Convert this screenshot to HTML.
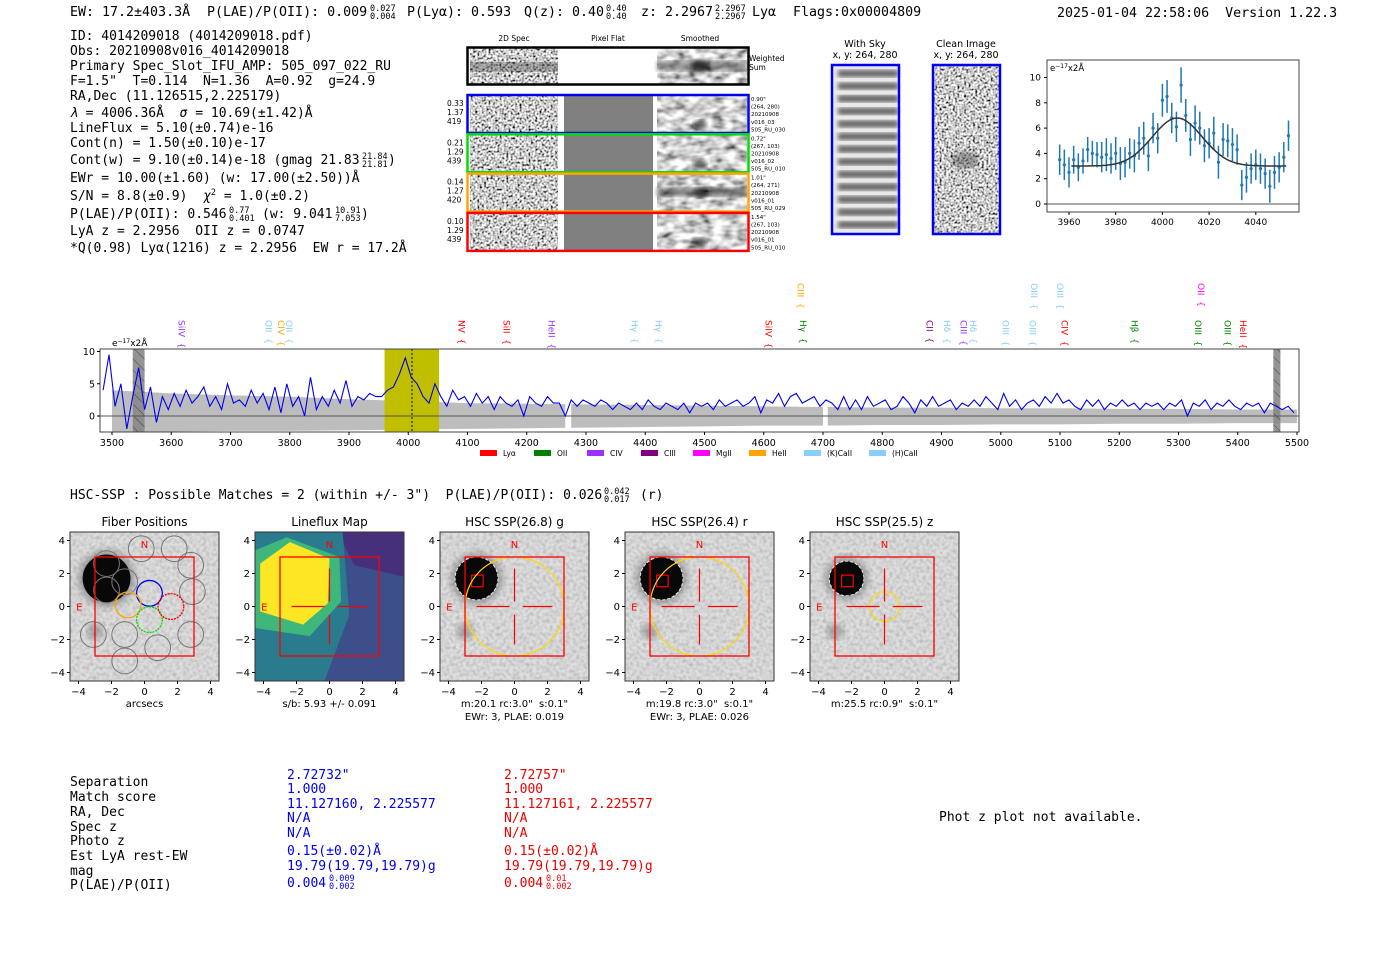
<!DOCTYPE html>
<html><head><meta charset="utf-8">
<style>
html,body{margin:0;padding:0;background:#fff;}
svg{display:block;}
text{white-space:pre;}
.m{font-family:"DejaVu Sans Mono","Liberation Mono",monospace;fill:#000;}
.s{font-family:"DejaVu Sans","Liberation Sans",sans-serif;}
</style></head>
<body>
<svg id="root" width="1400" height="953" viewBox="0 0 1400 953" xmlns="http://www.w3.org/2000/svg" font-size="13" xml:space="preserve">
<defs>
<filter id="noise" x="0" y="0" width="1" height="1" filterUnits="objectBoundingBox">
<feTurbulence type="fractalNoise" baseFrequency="0.45" numOctaves="1" seed="4"/>
<feColorMatrix type="matrix" values="1 0 0 0 0  1 0 0 0 0  1 0 0 0 0  0 0 0 0 1"/>
<feComponentTransfer><feFuncR type="linear" slope="2.6" intercept="-0.7"/><feFuncG type="linear" slope="2.6" intercept="-0.7"/><feFuncB type="linear" slope="2.6" intercept="-0.7"/></feComponentTransfer>
</filter>
<filter id="noiseSoft" x="0" y="0" width="1" height="1" filterUnits="objectBoundingBox">
<feTurbulence type="fractalNoise" baseFrequency="0.08 0.15" numOctaves="2" seed="9"/>
<feColorMatrix type="matrix" values="1 0 0 0 0  1 0 0 0 0  1 0 0 0 0  0 0 0 0 1"/>
<feComponentTransfer><feFuncR type="linear" slope="1.8" intercept="-0.25"/><feFuncG type="linear" slope="1.8" intercept="-0.25"/><feFuncB type="linear" slope="1.8" intercept="-0.25"/></feComponentTransfer>
</filter>
<filter id="noiseLight" x="0" y="0" width="1" height="1" filterUnits="objectBoundingBox">
<feTurbulence type="fractalNoise" baseFrequency="0.3" numOctaves="1" seed="7"/>
<feColorMatrix type="matrix" values="1 0 0 0 0  1 0 0 0 0  1 0 0 0 0  0 0 0 0 1"/>
<feComponentTransfer><feFuncR type="linear" slope="1.2" intercept="0.2"/><feFuncG type="linear" slope="1.2" intercept="0.2"/><feFuncB type="linear" slope="1.2" intercept="0.2"/></feComponentTransfer>
</filter>
<filter id="blur2"><feGaussianBlur stdDeviation="2"/></filter>
<filter id="blur4"><feGaussianBlur stdDeviation="4"/></filter>
<pattern id="hatch" width="8" height="8" patternUnits="userSpaceOnUse" patternTransform="rotate(-45)">
<rect width="8" height="8" fill="#888"/><line x1="0" y1="0" x2="0" y2="8" stroke="#333" stroke-width="1"/></pattern>
<clipPath id="specClip"><rect x="100" y="349" width="1199" height="83"/></clipPath>
</defs>

<g>
<text class="m" x="70" y="16" font-size="13.3">EW: 17.2±403.3Å</text>
<text class="m" x="207" y="16" font-size="13.3">P(LAE)/P(OII): 0.009</text>
<text class="m" x="370" y="11" font-size="8.5">0.027</text><text class="m" x="370" y="19" font-size="8.5">0.004</text>
<text class="m" x="407" y="16" font-size="13.3">P(Lyα): 0.593</text>
<text class="m" x="524" y="16" font-size="13.3">Q(z): 0.40</text>
<text class="m" x="606" y="11" font-size="8.5">0.40</text><text class="m" x="606" y="19" font-size="8.5">0.40</text>
<text class="m" x="641" y="16" font-size="13.3">z: 2.2967</text>
<text class="m" x="715" y="11" font-size="8.5">2.2967</text><text class="m" x="715" y="19" font-size="8.5">2.2967</text>
<text class="m" x="752" y="16" font-size="13.3">Lyα</text>
<text class="m" x="793" y="16" font-size="13.3">Flags:0x00004809</text>
<text class="m" x="1057" y="17" font-size="13.3">2025-01-04 22:58:06  Version 1.22.3</text>
</g>

<g>
<text class="m" x="70" y="40">ID: 4014209018 (4014209018.pdf)</text>
<text class="m" x="70" y="55">Obs: 20210908v016_4014209018</text>
<text class="m" x="70" y="70">Primary Spec_Slot_IFU_AMP: 505_097_022_RU</text>
<text class="m" x="70" y="85">F=1.5"  T=0.114  N=1.36  A=0.92  g=24.9</text>
<text class="m" x="70" y="100">RA,Dec (11.126515,2.225179)</text>
<text class="m" x="70" y="117"><tspan font-style="italic">λ</tspan> = 4006.36Å  <tspan font-style="italic">σ</tspan> = 10.69(±1.42)Å</text>
<text class="m" x="70" y="132">LineFlux = 5.10(±0.74)e-16</text>
<text class="m" x="70" y="147">Cont(n) = 1.50(±0.10)e-17</text>
<text class="m" x="70" y="164">Cont(w) = 9.10(±0.14)e-18 (gmag 21.83</text>
<text class="m" x="362" y="159" font-size="8.5">21.84</text><text class="m" x="362" y="167" font-size="8.5">21.81</text><text class="m" x="388" y="164">)</text>
<text class="m" x="70" y="182">EWr = 10.00(±1.60) (w: 17.00(±2.50))Å</text>
<text class="m" x="70" y="200">S/N = 8.8(±0.9)  <tspan font-style="italic">χ</tspan><tspan font-size="8.5" dy="-5">2</tspan><tspan dy="5"> = 1.0(±0.2)</tspan></text>
<text class="m" x="70" y="218">P(LAE)/P(OII): 0.546</text>
<text class="m" x="229" y="213" font-size="8.5">0.77</text><text class="m" x="229" y="221" font-size="8.5">0.401</text>
<text class="m" x="262" y="218">(w: 9.041</text>
<text class="m" x="335" y="213" font-size="8.5">10.91</text><text class="m" x="335" y="221" font-size="8.5">7.053</text><text class="m" x="361" y="218">)</text>
<text class="m" x="70" y="235">LyA z = 2.2956  OII z = 0.0747</text>
<text class="m" x="70" y="252">*Q(0.98) Lyα(1216) z = 2.2956  EW r = 17.2Å</text>
</g>

<g class="s" font-size="7.5">
<text x="514" y="41" text-anchor="middle">2D Spec</text>
<text x="608" y="41" text-anchor="middle">Pixel Flat</text>
<text x="700" y="41" text-anchor="middle">Smoothed</text>
<rect x="470" y="48" width="88" height="36" filter="url(#noise)"/>
<rect x="470" y="62" width="88" height="10" fill="#333" opacity="0.35"/>
<rect x="657" y="48" width="90" height="36" filter="url(#noiseSoft)"/>
<rect x="657" y="61" width="90" height="10" fill="#333" opacity="0.5" filter="url(#blur2)"/>
<ellipse cx="700" cy="66" rx="9" ry="6" fill="#111" opacity="0.7" filter="url(#blur2)"/>
<rect x="467.5" y="47.5" width="281" height="37" fill="none" stroke="#000" stroke-width="2.5"/>
<text x="749" y="61">Weighted</text><text x="749" y="70">Sum</text>
<g id="rows"></g>
</g>

<g class="s" font-size="9.5">
<text x="865" y="47" text-anchor="middle">With Sky</text>
<text x="865" y="58" text-anchor="middle">x, y: 264, 280</text>
<text x="966" y="47" text-anchor="middle">Clean Image</text>
<text x="966" y="58" text-anchor="middle">x, y: 264, 280</text>
<rect x="832" y="65" width="67" height="169" fill="#e8e8e8"/>
<g id="skybands"></g>
<rect x="933" y="65" width="67" height="169" filter="url(#noise)"/>
<ellipse cx="965" cy="160" rx="14" ry="9" fill="#222" opacity="0.35" filter="url(#blur2)"/>
<rect x="832" y="65" width="67" height="169" fill="none" stroke="#0000ee" stroke-width="2.5"/>
<rect x="933" y="65" width="67" height="169" fill="none" stroke="#0000ee" stroke-width="2.5"/>
</g>

<g id="zoomplot" class="s" font-size="9"></g>
<g id="spec" class="s" font-size="9.5"></g>

<text class="m" x="70" y="499">HSC-SSP : Possible Matches = 2 (within +/- 3")  P(LAE)/P(OII): 0.026</text>
<text class="m" x="604" y="494" font-size="8.5">0.042</text><text class="m" x="604" y="502" font-size="8.5">0.017</text>
<text class="m" x="640" y="499">(r)</text>

<g id="cutouts" class="s"></g>

<g>
<text class="m" x="70" y="786">Separation</text>
<text class="m" x="70" y="801">Match score</text>
<text class="m" x="70" y="816">RA, Dec</text>
<text class="m" x="70" y="831">Spec z</text>
<text class="m" x="70" y="845">Photo z</text>
<text class="m" x="70" y="860">Est LyA rest-EW</text>
<text class="m" x="70" y="875">mag</text>
<text class="m" x="70" y="889">P(LAE)/P(OII)</text>
<g>
<text class="m" style="fill:#0000ee" x="287" y="779">2.72732"</text>
<text class="m" style="fill:#0000ee" x="287" y="793">1.000</text>
<text class="m" style="fill:#0000ee" x="287" y="808">11.127160, 2.225577</text>
<text class="m" style="fill:#0000ee" x="287" y="822">N/A</text>
<text class="m" style="fill:#0000ee" x="287" y="837">N/A</text>
<text class="m" style="fill:#0000ee" x="287" y="855">0.15(±0.02)Å</text>
<text class="m" style="fill:#0000ee" x="287" y="870">19.79(19.79,19.79)g</text>
<text class="m" style="fill:#0000ee" x="287" y="887">0.004</text>
<text class="m" style="fill:#0000ee" font-size="8.5" x="329" y="881">0.009</text>
<text class="m" style="fill:#0000ee" font-size="8.5" x="329" y="889">0.002</text>
</g>
<g>
<text class="m" style="fill:#ee0000" x="504" y="779">2.72757"</text>
<text class="m" style="fill:#ee0000" x="504" y="793">1.000</text>
<text class="m" style="fill:#ee0000" x="504" y="808">11.127161, 2.225577</text>
<text class="m" style="fill:#ee0000" x="504" y="822">N/A</text>
<text class="m" style="fill:#ee0000" x="504" y="837">N/A</text>
<text class="m" style="fill:#ee0000" x="504" y="855">0.15(±0.02)Å</text>
<text class="m" style="fill:#ee0000" x="504" y="870">19.79(19.79,19.79)g</text>
<text class="m" style="fill:#ee0000" x="504" y="887">0.004</text>
<text class="m" style="fill:#ee0000" font-size="8.5" x="546" y="881">0.01</text>
<text class="m" style="fill:#ee0000" font-size="8.5" x="546" y="889">0.002</text>
</g>
</g>
<text class="m" x="939" y="821">Phot z plot not available.</text>
</svg>

<script>
const specStart = 3485;
const specStep = 10;
const specFlux = [4,9.5,1.5,5,-2,3,7.5,1,
4.5,-1,3,1,3.5,1.5,4,2,3,
4.5,1.5,3,1,5,2,2.5,1.5,4,2,
3.5,1,4.5,0.5,5,1.5,3,0,6,1,
3,1.5,4,2,5.5,1.5,3,2.5,3.5,3,
3,4,4.5,6.5,9,6,5,3,2,5,
3,1.5,4,2.5,3,1.5,3.5,2,3,1,
3,2,1.5,2.5,0,3,2,1.5,3,2,
2,0,2.5,1.5,2.5,2,1.5,2.5,2,1,
2,1.5,1,2,1,2.5,1.5,1,2,1.5,
1,2,0.5,2,1.5,2,1,2.5,1.5,2,
2.5,1.5,2,3,0.5,2.5,2,3.5,1.5,3,
3.5,2,2.5,3,1.5,2.5,2,1,3,1,
2.5,1,3,1.5,2,2.5,1,1.5,3,2,
0.5,2.5,1.5,3,1.5,2,2.5,1,2,1.5,
2.5,1.5,3,2,1,3.5,1.5,2.5,1,2,
2.5,1.5,3,2,3.5,2,2.5,1.5,1,2.5,
1.5,2.5,1,2,1.5,2.5,1.5,2,1,2,
1.5,2,1,2,1.5,2.5,0,2,1.5,2.5,
1,2,1.5,2.5,1.5,1,2,1.5,2,0.5,
2,1.5,1,1.5,0.5];
const errWave = [3500,3600,3700,3800,3900,4000,4100,4200,4300,4400,4500,4600,4700,4800,4900,5000,5100,5200,5300,5400,5500];
const errTop = [4,3.5,3.2,3,2.6,2.3,2,1.9,1.8,1.7,1.6,1.5,1.4,1.3,1.3,1.2,1.2,1.1,1.1,1.0,1.0];
const errBot = [-2.5,-2.4,-2.3,-2.3,-2.2,-2.1,-2,-1.9,-1.8,-1.7,-1.6,-1.5,-1.5,-1.4,-1.4,-1.3,-1.3,-1.2,-1.2,-1.1,-1.1];
const specXTicks = [3500,3600,3700,3800,3900,4000,4100,4200,4300,4400,4500,4600,4700,4800,4900,5000,5100,5200,5300,5400,5500];
const specYTicks = [0,5,10];
const lineNames = ["SiIV","OII","CIV","OII","NV","SiII","HeII","Hγ","Hγ","SiIV","Hγ","CIII","CII","Hδ","CIII","Hδ","OIII","OIII","OIII","OIII","CIV","Hβ","OII","OIII","OIII","HeII"];
const lineWaves = [3617,3764,3785,3799,4090,4166,4242,4382,4422,4608,4666,4662,4880,4909,4937,4953,5008,5054,5056,5100,5108,5226,5338,5333,5383,5409];
const lineColors = ["#9b30ff","#87cefa","#ffa500","#87cefa","red","red","#9b30ff","#87cefa","#87cefa","red","green","#ffa500","purple","#87cefa","#9b30ff","#87cefa","#87cefa","#87cefa","#87cefa","#87cefa","red","green","magenta","green","green","red"];
const lineHigh = [0,0,0,0,0,0,0,0,0,0,0,1,0,0,0,0,0,0,1,1,0,0,1,0,0,0];
const fitWave = [3956,3958,3960,3962,3964,3966,3968,3970,3972,3974,3976,3978,3980,3982,3984,3986,3988,3990,3992,3994,3996,3998,4000,4002,4004,4006,4008,4010,4012,4014,4016,4018,4020,4022,4024,4026,4028,4030,4032,4034,4036,4038,4040,4042,4044,4046,4048,4050,4052,4054];
const fitFlux = [3.5,3.1,2.5,3.5,2.9,3.4,4.3,4.0,3.9,3.7,3.9,3.6,4.0,3.2,3.3,4.0,3.8,4.8,5.2,3.8,6.0,5.2,8.2,8.5,6.8,6.1,9.4,7.0,5.1,6.4,6.0,4.6,4.8,5.6,3.3,5.1,5.0,4.7,4.3,1.5,2.1,2.8,3.1,2.8,2.4,1.4,2.5,2.9,3.7,5.4];
const fitErr = [1.2,1.2,1.2,1.1,1.1,1.0,1.0,1.0,1.0,1.2,1.3,1.2,1.3,1.3,1.2,1.2,1.3,1.3,1.3,1.2,1.2,1.2,1.3,1.3,1.2,1.2,1.4,1.3,1.3,1.4,1.3,1.3,1.2,1.3,1.3,1.3,1.3,1.3,1.2,1.2,1.2,1.2,1.2,1.2,1.2,1.3,1.3,1.2,1.2,1.2];
const fitParams = [3.0, 3.8, 4006.36, 10.69];
const fitXTicks = [3960,3980,4000,4020,4040];
const fitYTicks = [0,2,4,6,8,10];
const legendNames = ["Lyα","OII","CIV","CIII","MgII","HeII","(K)CaII","(H)CaII"];
const legendColors = ["red","green","#9b30ff","purple","magenta","orange","#87cefa","#87cefa"];

const NS = "http://www.w3.org/2000/svg";
function mk(tag, attrs, parent){ const e=document.createElementNS(NS,tag); for(const k in attrs) e.setAttribute(k,attrs[k]); parent.appendChild(e); return e; }

const rows = document.getElementById('rows');
const rowColors = ["#0000ee","#00dd00","orange","red"];
const rowL = [["0.33","1.37","419"],["0.21","1.29","439"],["0.14","1.27","420"],["0.10","1.29","439"]];
const rowR = [["0.90\"","(264, 280)","20210908","v016_03","505_RU_030"],["0.72\"","(267, 103)","20210908","v016_02","505_RU_010"],["1.01\"","(264, 271)","20210908","v016_01","505_RU_029"],["1.54\"","(267, 103)","20210908","v016_01","505_RU_010"]];
for(let i=0;i<4;i++){
  const y=95+i*39.3;
  const r1=mk('rect',{x:470,y:y,width:88,height:38,filter:'url(#noise)'},rows);
  
  
  mk('rect',{x:564,y:y,width:89,height:38,fill:'#808080'},rows);
  mk('rect',{x:657,y:y,width:90,height:38,filter:'url(#noiseSoft)'},rows);
  if(i==2){ mk('rect',{x:657,y:y+14,width:90,height:9,fill:'#222',opacity:0.55,filter:'url(#blur2)'},rows); }
  mk('ellipse',{cx:700,cy:y+(i==2?19:30),rx:7,ry:5,fill:'#111',opacity:0.6,filter:'url(#blur2)'},rows);
  const fr=mk('rect',{x:467.5,y:y,width:281,height:38,fill:'none',stroke:rowColors[i],'stroke-width':2.5},rows);
  
  
  rowL[i].forEach((t,j)=>{ mk('text',{x:447,y:y+11+j*9,'font-size':7.5},rows).textContent=t; });
  rowR[i].forEach((t,j)=>{ mk('text',{x:751,y:y+6+j*7.6,'font-size':5.5},rows).textContent=t; });
}
const sb=document.getElementById('skybands');
for(let i=0;i<13;i++){ mk('rect',{x:838,y:70+i*12.6,width:60,height:7,fill:'#666',filter:'url(#blur2)'},sb); }

(function(){
  const g=document.getElementById('zoomplot');
  const X=w=>1069+(w-3960)*2.335, Y=v=>204-v*12.65;
  mk('rect',{x:1047,y:60,width:252,height:152,fill:'#fff',stroke:'#444','stroke-width':1},g);
  mk('line',{x1:1047,x2:1299,y1:Y(0),y2:Y(0),stroke:'#555','stroke-width':1},g);
  fitXTicks.forEach(t=>{ mk('line',{x1:X(t),x2:X(t),y1:212,y2:215,stroke:'#000'},g); mk('text',{x:X(t),y:225,'text-anchor':'middle'},g).textContent=t; });
  fitYTicks.forEach(t=>{ mk('line',{x1:1044,x2:1047,y1:Y(t),y2:Y(t),stroke:'#000'},g); mk('text',{x:1041,y:Y(t)+3,'text-anchor':'end'},g).textContent=t; });
  const lab=mk('text',{x:1050,y:71,'font-size':8.5},g); lab.innerHTML='e<tspan dy="-3" font-size="6">−17</tspan><tspan dy="3">x2Å</tspan>';
  fitWave.forEach((w,i)=>{
    const eb=mk('line',{x1:X(w),x2:X(w),y1:Y(fitFlux[i]+fitErr[i]),y2:Y(fitFlux[i]-fitErr[i]),stroke:'#1f77b4','stroke-width':1.5},g);
    
    
    const p=mk('circle',{cx:X(w),cy:Y(fitFlux[i]),r:1.6,fill:'#1f77b4'},g);
    
    
  });
  let d='';
  for(let w=3961;w<=4053;w+=1){ const v=fitParams[0]+fitParams[1]*Math.exp(-0.5*Math.pow((w-fitParams[2])/fitParams[3],2)); d+=(d?'L':'M')+X(w).toFixed(1)+','+Y(v).toFixed(1); }
  const c=mk('path',{d:d,fill:'none',stroke:'#333','stroke-width':1.5},g);
  
  
})();

(function(){
  const g=document.getElementById('spec');
  const X=w=>112+(w-3500)*0.5925, Y=v=>416-v*6.45;
  mk('rect',{x:100,y:349,width:1199,height:83,fill:'#fff'},g);
  const cg=mk('g',{'clip-path':'url(#specClip)'},g);
  let d='';
  errWave.forEach((w,i)=>{ d+=(i?'L':'M')+X(w)+','+Y(errTop[i]); });
  for(let i=errWave.length-1;i>=0;i--) d+='L'+X(errWave[i])+','+Y(errBot[i]);
  const band=mk('path',{d:d+'Z',fill:'#bdbdbd'},cg);
  
  
  mk('rect',{x:X(4265),y:349,width:X(4275)-X(4265),height:83,fill:'#fff'},cg);
  mk('rect',{x:X(4700),y:349,width:X(4708)-X(4700),height:83,fill:'#fff'},cg);
  const yb=mk('rect',{x:X(3960),y:349,width:X(4052)-X(3960),height:83,fill:'#bfbf00'},cg);
  
  
  mk('rect',{x:X(3535),y:349,width:X(3555)-X(3535),height:83,fill:'url(#hatch)',opacity:0.9},cg);
  mk('rect',{x:X(5460),y:349,width:X(5472)-X(5460),height:83,fill:'url(#hatch)',opacity:0.9},cg);
  mk('line',{x1:100,x2:1299,y1:Y(0),y2:Y(0),stroke:'#555','stroke-width':1},cg);
  let p='';
  specFlux.forEach((v,i)=>{ const w=specStart+i*specStep; p+=(i?'L':'M')+X(w).toFixed(1)+','+Y(v).toFixed(1); });
  const ln=mk('path',{d:p,fill:'none',stroke:'#0000ee','stroke-width':1.1},cg);
  
  
  mk('line',{x1:X(4006.36),x2:X(4006.36),y1:349,y2:432,stroke:'#000','stroke-dasharray':'2,2'},cg);
  mk('rect',{x:100,y:349,width:1199,height:83,fill:'none',stroke:'#444'},g);
  specXTicks.forEach(t=>{ mk('line',{x1:X(t),x2:X(t),y1:432,y2:435,stroke:'#000'},g); mk('text',{x:X(t),y:446,'text-anchor':'middle'},g).textContent=t; });
  specYTicks.forEach(t=>{ mk('line',{x1:97,x2:100,y1:Y(t),y2:Y(t),stroke:'#000'},g); mk('text',{x:95,y:Y(t)+3.5,'text-anchor':'end'},g).textContent=t; });
  const lab=mk('text',{x:112,y:346,'font-size':9},g); lab.innerHTML='e<tspan dy="-3" font-size="6">−17</tspan><tspan dy="3">x2Å</tspan>';
  lineNames.forEach((n,i)=>{
    const x=X(lineWaves[i]), y0=lineHigh[i]?283:320;
    const t=mk('text',{x:0,y:0,fill:lineColors[i],'font-size':9,transform:`translate(${x-3},${y0}) rotate(90)`},g);
    
    
    t.textContent=n+'  {';
  });
  legendNames.forEach((n,i)=>{
    const lx=[480,534,587,641,693,749,804,869][i];
    const r=mk('rect',{x:lx,y:450,width:17,height:6,fill:legendColors[i]},g);
    
    
    mk('text',{x:lx+23,y:456,'font-size':7.5},g).textContent=n;
  });
})();

(function(){
  const g=document.getElementById('cutouts');
  const titles=["Fiber Positions","Lineflux Map","HSC SSP(26.8) g","HSC SSP(26.4) r","HSC SSP(25.5) z"];
  const subs=[["arcsecs"],["s/b: 5.93 +/- 0.091"],["m:20.1 rc:3.0\"  s:0.1\"","EWr: 3, PLAE: 0.019"],["m:19.8 rc:3.0\"  s:0.1\"","EWr: 3, PLAE: 0.026"],["m:25.5 rc:0.9\"  s:0.1\""]];
  const lefts=[70,255,440,625,810];
  const ticks=[-4,-2,0,2,4];
  const S=16.5;
  lefts.forEach((x0,k)=>{
    const cx=x0+74.5, cy=606.5, X=u=>cx+u*S, Y=v=>cy-v*S;
    const pg=mk('g',{},g);
    
    
    const cl=mk('clipPath',{id:'cp'+k},pg); mk('rect',{x:x0,y:532,width:149,height:149},cl);
    const ig=mk('g',{'clip-path':`url(#cp${k})`},pg);
    if(k==1){
      mk('rect',{x:x0,y:532,width:149,height:149,fill:'#3d4f8b'},ig);
      mk('polygon',{points:`${X(0.5)},532 ${x0+149},532 ${x0+149},${Y(1.8)} ${X(1.5)},${Y(2.5)}`,fill:'#46307c'},ig);
      mk('polygon',{points:`${x0},532 ${X(0.8)},532 ${X(1.2)},${Y(-0.5)} ${X(-0.3)},${Y(-4.5)} ${x0},${Y(-4.5)}`,fill:'#2a7b8e'},ig);
      mk('polygon',{points:`${x0},${Y(3.4)} ${X(-2.6)},${Y(4.2)} ${X(0.6)},${Y(3)} ${X(0.7)},${Y(0.3)} ${X(-1.2)},${Y(-1.8)} ${X(-4.5)},${Y(-1.3)}`,fill:'#3fb67a'},ig);
      mk('polygon',{points:`${X(-4.2)},${Y(2.6)} ${X(-2.4)},${Y(3.9)} ${X(0)},${Y(2.9)} ${X(-0.1)},${Y(0.2)} ${X(-1.6)},${Y(-1.1)} ${X(-4.2)},${Y(-0.3)}`,fill:'#fde725'},ig);
    } else {
      mk('rect',{x:x0,y:532,width:149,height:149,fill:'#c4c4c4'},ig);
      mk('rect',{x:x0,y:532,width:149,height:149,filter:'url(#noiseLight)',opacity:0.45},ig);
      const br=k==0?1.45:(k==4?1.05:1.3);
      mk('circle',{cx:X(-2.3),cy:Y(1.7),r:br*S+4,fill:'#555',opacity:0.5,filter:'url(#blur4)'},ig);
      mk('circle',{cx:X(-2.3),cy:Y(1.7),r:br*S,fill:'#080808'},ig);
      mk('circle',{cx:X(-3),cy:Y(-1.5),r:8,fill:'#666',opacity:0.5,filter:'url(#blur4)'},ig);
      if(k>=2){
        mk('circle',{cx:X(-2.3),cy:Y(1.7),r:br*S,fill:'none',stroke:'#eee','stroke-dasharray':'3,2'},ig);
        mk('circle',{cx:X(-3),cy:Y(-1.5),r:1.1*S,fill:'none',stroke:'#eee','stroke-width':0.7,'stroke-dasharray':'3,2'},ig);
        mk('rect',{x:X(-2.6),y:Y(1.9),width:0.7*S,height:0.7*S,fill:'none',stroke:'red','stroke-width':1.2},ig);
        const yr=k==4?0.9:3;
        const yc=mk('circle',{cx:X(0),cy:Y(0),r:yr*S,fill:'none',stroke:'#ffd700','stroke-width':1.2},ig);
        
        
      }
      if(k==0){
        const fib=[[-2.3,2.6],[-2.3,1],[-0.2,3.5],[1.8,3.5],[-1.2,-1.7],[-3.1,-1.7],[-1.2,-3.3],[0.8,-2.5],[2.8,-1.7],[2.9,0.9],[2.8,2.5],[-1.2,1.5]];
        fib.forEach(f=>mk('circle',{cx:X(f[0]),cy:Y(f[1]),r:0.78*S,fill:'none',stroke:'#777','stroke-width':1},ig));
        [[0.3,0.8,'#0000ee'],[-1,0.1,'orange'],[0.3,-0.8,'#00dd00'],[1.6,0,'red']].forEach(f=>{
          const fc=mk('circle',{cx:X(f[0]),cy:Y(f[1]),r:0.78*S,fill:'none',stroke:f[2],'stroke-width':1.3,'stroke-dasharray':f[2]=='#0000ee'||f[2]=='orange'?'none':'2,1'},ig);
          
          
        });
      }
    }
    mk('rect',{x:X(-3),y:Y(3),width:6*S,height:6*S,fill:'none',stroke:'red','stroke-width':1.3},ig);
    if(k>=1){
      [[ -2.3,-0.3],[0.5,2.3]].forEach(s=>{ mk('line',{x1:X(s[0]),x2:X(s[1]),y1:cy,y2:cy,stroke:'red','stroke-width':1.2},ig); mk('line',{y1:Y(-s[0]),y2:Y(-s[1]),x1:cx,x2:cx,stroke:'red','stroke-width':1.2},ig); });
    }
    mk('text',{x:cx,y:Y(3.55),fill:'red','font-size':10,'text-anchor':'middle'},ig).textContent='N';
    mk('text',{x:X(-3.95),y:cy+4,fill:'red','font-size':10,'text-anchor':'middle'},ig).textContent='E';
    mk('rect',{x:x0,y:532,width:149,height:149,fill:'none',stroke:'#333'},pg);
    ticks.forEach(t=>{
      mk('line',{x1:X(t),x2:X(t),y1:681,y2:684,stroke:'#000'},pg);
      mk('text',{x:X(t),y:695,'font-size':10,'text-anchor':'middle'},pg).textContent=(t<0?'−':'')+Math.abs(t);
      mk('line',{x1:x0-3,x2:x0,y1:Y(t),y2:Y(t),stroke:'#000'},pg);
      mk('text',{x:x0-5,y:Y(t)+3.5,'font-size':10,'text-anchor':'end'},pg).textContent=(t<0?'−':'')+Math.abs(t);
    });
    mk('text',{x:cx,y:526,'font-size':12,'text-anchor':'middle'},pg).textContent=titles[k];
    subs[k].forEach((s,j)=>mk('text',{x:cx,y:707+j*13,'font-size':10,'text-anchor':'middle'},pg).textContent=s);
  });
})();
</script>
</body></html>
